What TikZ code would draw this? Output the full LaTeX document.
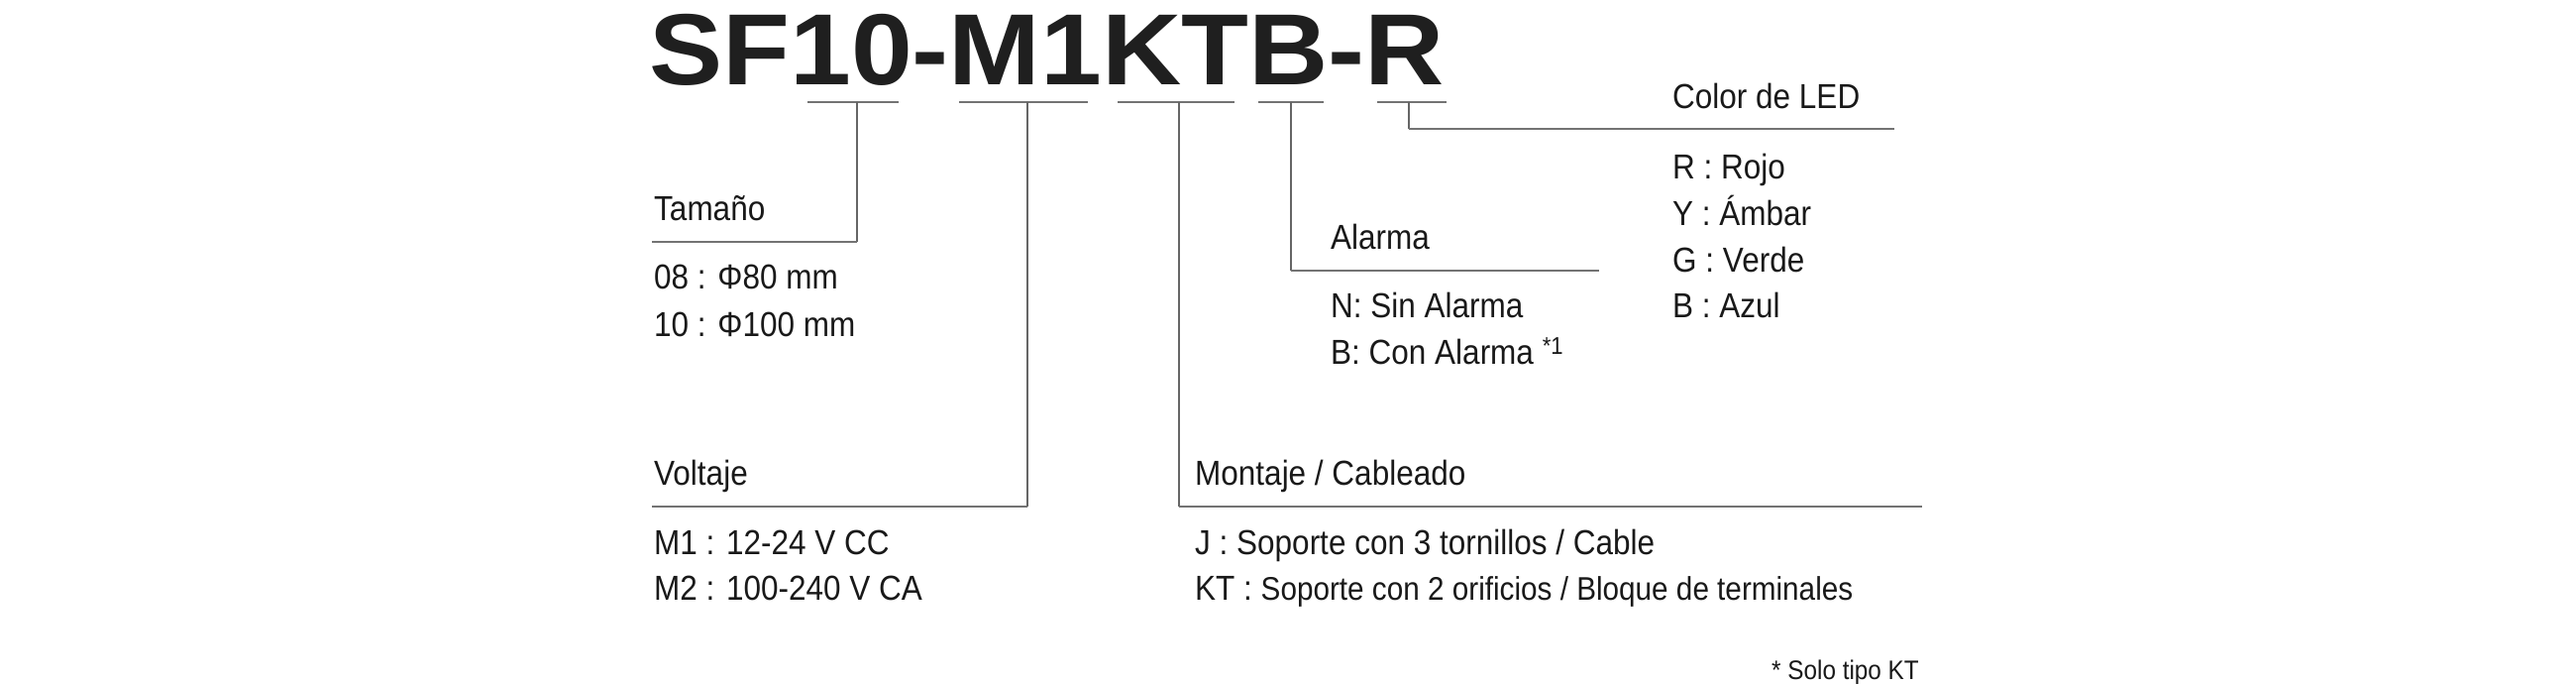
\documentclass[tikz,border=0pt]{standalone}
\usepackage{fontspec}
\setmainfont{Liberation Sans}[FakeStretch=0.9]
\newfontfamily\titlefont{Liberation Sans}[FakeStretch=1.0]
\begin{document}
\begin{tikzpicture}[x=1pt,y=-1pt,
  lbl/.style={anchor=base west,inner sep=0pt,font=\fontsize{35}{40}\selectfont,text=black!90},
  ul/.style={draw=black!55,line width=2.2pt},
  ld/.style={draw=black!60,line width=1.3pt}]
\useasboundingbox (0,0) rectangle (2600,690);
\node[anchor=base west,inner sep=0pt,font=\titlefont\bfseries\fontsize{102}{110}\selectfont,text=black!88] (title) at (655,86) {\scalebox{1.09}[1]{SF10-M1KTB-R}};
% underline segments
\foreach \a/\b/\n in {815/907/s1,968/1098/s2,1128/1246/s3,1270/1336/s4,1390/1460/s5}
  \draw[ul] (\a,103) coordinate(\n a) -- (\b,103) coordinate(\n b);
% connectors
\coordinate (c1) at (865,103); \coordinate (c1e) at (865,244); \coordinate (h1) at (658,244);
\coordinate (c2) at (1037,103); \coordinate (c2e) at (1037,511); \coordinate (h2) at (658,511);
\coordinate (c3) at (1190,103); \coordinate (c3e) at (1190,511); \coordinate (h3) at (1940,511);
\coordinate (c4) at (1303,103); \coordinate (c4e) at (1303,273); \coordinate (h4) at (1614,273);
\coordinate (c5) at (1422,103); \coordinate (c5e) at (1422,130); \coordinate (h5) at (1912,130);
\draw[ld] (c1) -- (c1e); \draw[ul] (c1e) -- (h1);
\draw[ld] (c2) -- (c2e); \draw[ul] (c2e) -- (h2);
\draw[ld] (c3) -- (c3e); \draw[ul] (c3e) -- (h3);
\draw[ld] (c4) -- (c4e); \draw[ul] (c4e) -- (h4);
\draw[ld] (c5) -- (c5e); \draw[ul] (c5e) -- (h5);
% labels
\node[lbl] (tam) at (660,222) {Tamaño};
\node[lbl] (t1) at (660,291) {08 : Φ80 mm};
\node[lbl] (t2) at (660,339) {10 : Φ100 mm};
\node[lbl] (vol) at (660,489) {Voltaje};
\node[lbl] (v1) at (660,559) {M1 : 12-24 V CC};
\node[lbl] (v2) at (660,605) {M2 : 100-240 V CA};
\node[lbl] (mon) at (1206,489) {Montaje / Cableado};
\node[lbl] (m1) at (1206,559) {J : Soporte con 3 tornillos / Cable};
\node[lbl] (m2) at (1206,605) {KT : {\fontsize{33}{36}\selectfont Soporte con 2 orificios / Bloque de terminales}};
\node[lbl] (ala) at (1343,251) {Alarma};
\node[lbl] (a1) at (1343,320) {N: Sin Alarma};
\node[lbl] (a2) at (1343,367) {B: Con Alarma \textsuperscript{*1}};
\node[lbl] (col) at (1688,110) {Color de LED};
\node[lbl] (r1) at (1688,180) {R : Rojo};
\node[lbl] (r2) at (1688,227) {Y : Ámbar};
\node[lbl] (r3) at (1688,274) {G : Verde};
\node[lbl] (r4) at (1688,320) {B : Azul};
\node[anchor=base east,inner sep=0pt,font=\fontsize{27}{30}\selectfont,text=black!90] (note) at (1937,685) {* Solo tipo KT};
\end{tikzpicture}
\end{document}
